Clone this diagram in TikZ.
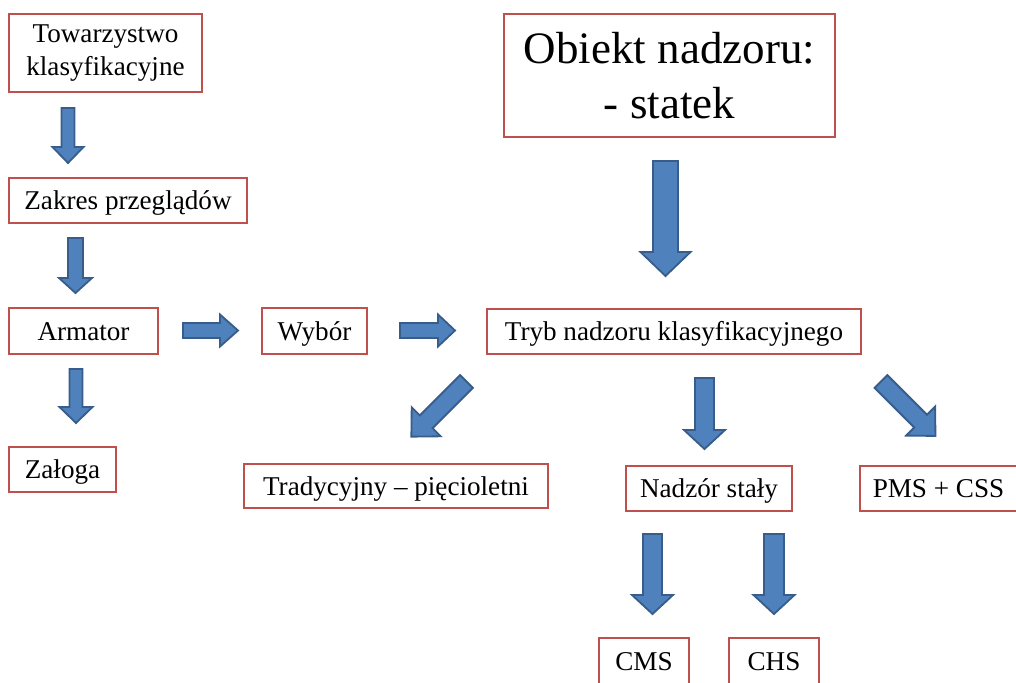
\documentclass[tikz,border=0pt]{standalone}
\usepackage{fontspec}
\setmainfont{Liberation Serif}
\definecolor{boxred}{HTML}{C0504D}
\definecolor{arrowfill}{HTML}{4F81BD}
\definecolor{arrowline}{HTML}{385D8A}

\begin{document}
\begin{tikzpicture}[x=0.025cm, y=-0.025cm,
    box/.style={draw=boxred, line width=2pt, fill=white, inner sep=0pt, align=center,
        font=\fontsize{19.3}{23.6}\selectfont},
    oneline/.style={text height=17pt, text depth=4pt},
    boxsize/.style 2 args={minimum width={#1*0.025cm}, minimum height={#2*0.025cm}},
    blockarrow/.style={fill=arrowfill, draw=arrowline, line width=1.3pt, line join=miter}]
            \useasboundingbox (0,0) rectangle (1016,682);

            % Left column
            \node[box, boxsize={193}{78}] (tow) at (105.5,53) {Towarzystwo\\klasyfikacyjne};
            \node[box, oneline, boxsize={238}{45}] (zak) at (128,200.5) {Zakres przeglądów};
            \node[box, oneline, boxsize={149}{46}] (arm) at (83.5,331) {Armator};
            \node[box, oneline, boxsize={107}{45}] (zal) at (62.5,469.5) {Załoga};

            % Middle row
            \node[box, oneline, boxsize={105}{46}] (wyb) at (314.5,331) {Wybór};
            \node[box, oneline, boxsize={374}{45}] (tryb) at (674,331.5) {Tryb nadzoru klasyfikacyjnego};
            \node[box, boxsize={331}{123}, font=\fontsize{32}{39}\selectfont] (obi) at (669.5,75.5)
                {Obiekt nadzoru:\\- statek};

            % Supervision modes
            \node[box, oneline, boxsize={304}{44}] (trad) at (396,486) {Tradycyjny -- pięcioletni};
            \node[box, oneline, boxsize={166}{45}] (nad) at (709,488.5) {Nadzór stały};
            \node[box, oneline, boxsize={157}{45}] (pms) at (938.5,488.5) {PMS + CSS};
            \node[box, oneline, boxsize={90}{46}] (cms) at (644,661) {CMS};
            \node[box, oneline, boxsize={90}{46}] (chs) at (774,661) {CHS};

            % Block arrows: tail x/y, angle, length, shaft, head width, head length
            \foreach \x/\y/\ang/\len/\sw/\hw/\hl in {
                    68/108/-90/55/13/31/16, 75.5/238/-90/55/15/33/15, 76/369/-90/54/13/33/16,
                    183/330.5/0/55/15/32/18, 400/330.5/0/55/15/32/17,
                    665.5/161/-90/115/25/50/24, 466.5/381.5/-135/78/18/41/21,
                    704.5/378/-90/71/19/41/19, 881/381.5/-45/77/18/41/21,
                    652.5/534/-90/80/19/41/19, 774/534/-90/80/20/41/19}
                \draw[blockarrow, shift={(\x,\y)}, rotate=\ang]
                    (0,{-\sw/2}) -- ({\len-\hl},{-\sw/2}) -- ({\len-\hl},{-\hw/2}) -- (\len,0) --
                    ({\len-\hl},{\hw/2}) -- ({\len-\hl},{\sw/2}) -- (0,{\sw/2}) -- cycle;
        \end{tikzpicture}
\end{document}
